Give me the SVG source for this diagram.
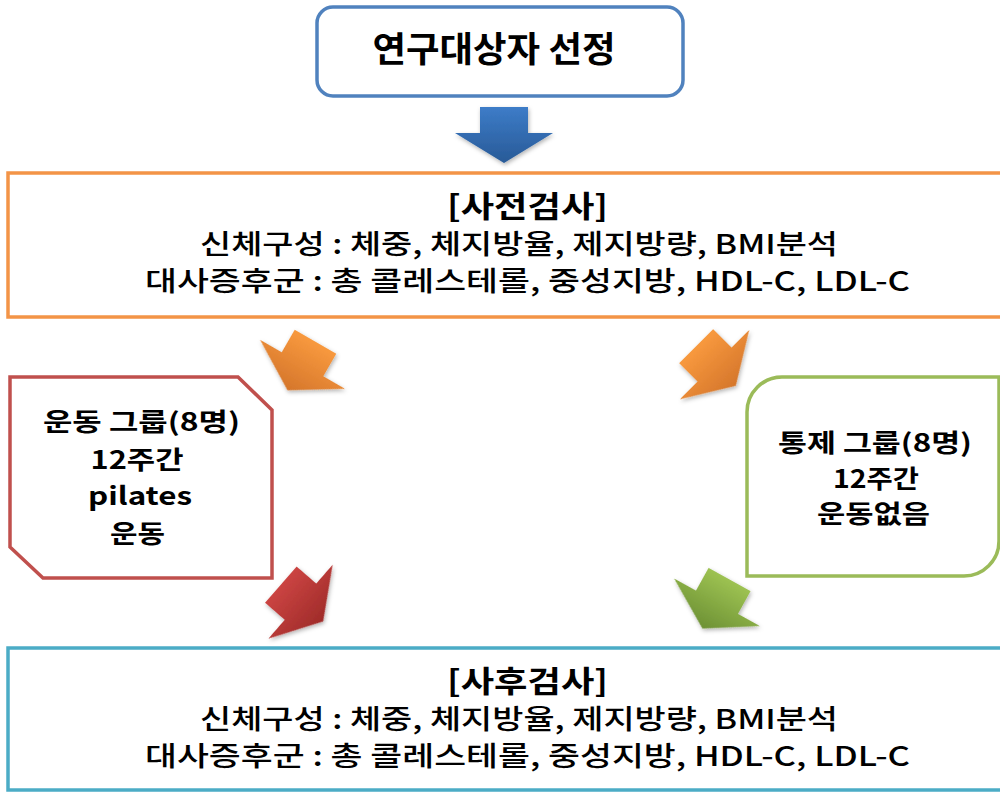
<svg xmlns="http://www.w3.org/2000/svg" width="1000" height="792" viewBox="0 0 1000 792">
<style>
  text { font-family: "Noto Sans CJK KR", "Noto Sans", sans-serif; font-weight: bold; fill: #000; text-anchor: middle; }
  .box { fill: #fff; stroke-width: 3.5; }
  .t1 { font-size: 30px; }
  .t2 { font-size: 27px; font-weight: 500; }
  .g { font-size: 25px; }
</style>
<defs>
  <path id="arr" d="M-24,-28 H24 V-2 H49 L0,28 L-49,-2 H-24 Z"/>
  <linearGradient id="gBlue" x1="0" y1="0" x2="0" y2="1"><stop offset="0" stop-color="#3d7cc8"/><stop offset="1" stop-color="#285a97"/></linearGradient>
  <linearGradient id="gOrange" x1="0" y1="0" x2="0" y2="1"><stop offset="0" stop-color="#f8993e"/><stop offset="1" stop-color="#d5762b"/></linearGradient>
  <linearGradient id="gRed" x1="0" y1="0" x2="0" y2="1"><stop offset="0" stop-color="#cb4442"/><stop offset="1" stop-color="#9f2b29"/></linearGradient>
  <linearGradient id="gGreen" x1="0" y1="0" x2="0" y2="1"><stop offset="0" stop-color="#9dc252"/><stop offset="1" stop-color="#6d9134"/></linearGradient>
  <filter id="sh" x="-30%" y="-30%" width="160%" height="160%"><feDropShadow dx="1" dy="2" stdDeviation="2" flood-opacity="0.3"/></filter>
</defs>

<g id="node-select">
  <rect class="box" x="317" y="7" width="366" height="89" rx="16" stroke="#5082be"/>
  <text x="494" y="62" style="font-size:35px" textLength="243" lengthAdjust="spacingAndGlyphs">연구대상자 선정</text>
</g>

<g id="node-pretest">
  <rect class="box" x="8" y="173" width="1000" height="144" stroke="#f39447"/>
  <text class="t1" x="527.5" y="217" textLength="161" lengthAdjust="spacingAndGlyphs">[사전검사]</text>
  <text class="t2" x="519" y="254" textLength="638" lengthAdjust="spacingAndGlyphs">신체구성 : 체중, 체지방율, 제지방량, BMI분석</text>
  <text class="t2" x="527.5" y="291" textLength="765" lengthAdjust="spacingAndGlyphs">대사증후군 : 총 콜레스테롤, 중성지방, HDL-C, LDL-C</text>
</g>

<g id="node-exercise">
  <path class="box" d="M10,377 H238 L272,410 V578 H43 L10,547 Z" stroke="#c0504d"/>
  <text class="g" x="141.5" y="431" textLength="197" lengthAdjust="spacingAndGlyphs">운동 그룹(8명)</text>
  <text class="g" x="137" y="469" textLength="93" lengthAdjust="spacingAndGlyphs">12주간</text>
  <text class="g" x="140" y="505" textLength="104" lengthAdjust="spacingAndGlyphs">pilates</text>
  <text class="g" x="137.5" y="543" textLength="55" lengthAdjust="spacingAndGlyphs">운동</text>
</g>

<g id="node-control">
  <path class="box" d="M747,412 A35,35 0 0 1 782,377 H999 V541 A35,35 0 0 1 964,576 H747 Z" stroke="#9bbb59"/>
  <text class="g" x="875" y="452" textLength="194" lengthAdjust="spacingAndGlyphs">통제 그룹(8명)</text>
  <text class="g" x="876" y="488" textLength="86" lengthAdjust="spacingAndGlyphs">12주간</text>
  <text class="g" x="873.5" y="523" textLength="113" lengthAdjust="spacingAndGlyphs">운동없음</text>
</g>

<g id="node-posttest">
  <rect class="box" x="8" y="648" width="1000" height="142" stroke="#4bacc6"/>
  <text class="t1" x="527.5" y="692" textLength="161" lengthAdjust="spacingAndGlyphs">[사후검사]</text>
  <text class="t2" x="519" y="729" textLength="638" lengthAdjust="spacingAndGlyphs">신체구성 : 체중, 체지방율, 제지방량, BMI분석</text>
  <text class="t2" x="527.5" y="766" textLength="765" lengthAdjust="spacingAndGlyphs">대사증후군 : 총 콜레스테롤, 중성지방, HDL-C, LDL-C</text>
</g>

<g id="connectors" filter="url(#sh)">
  <use href="#arr" fill="url(#gBlue)" transform="translate(504,135)"/>
  <use href="#arr" fill="url(#gOrange)" transform="translate(301.5,366) rotate(30)"/>
  <use href="#arr" fill="url(#gOrange)" transform="translate(716,366) rotate(-45)"/>
  <use href="#arr" fill="url(#gRed)" transform="translate(302,603) rotate(-49)"/>
  <use href="#arr" fill="url(#gGreen)" transform="translate(716,604) rotate(29)"/>
</g>
</svg>
